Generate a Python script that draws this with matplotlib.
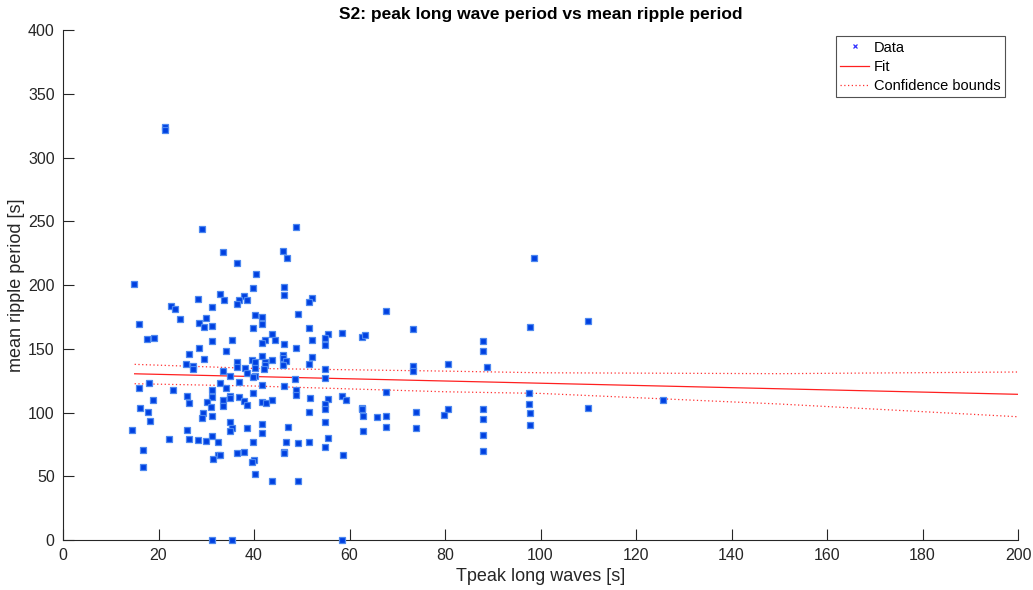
import numpy as np
import matplotlib
matplotlib.use("Agg")
import matplotlib.pyplot as plt
from matplotlib.lines import Line2D

plt.rcParams['font.family'] = ['Liberation Sans', 'DejaVu Sans']

# data
tpeak = [29.2, 33.6, 36.4, 40.4, 14.8, 39.7, 32.8, 28.3, 33.7, 38.0,
         36.9, 36.4, 38.5, 22.6, 23.5, 31.1, 24.4, 30.0, 40.3, 15.9,
         28.4, 29.5, 31.1, 39.7, 17.5, 19.1, 31.1, 35.3, 28.4, 34.1,
         26.4, 29.5, 25.7, 27.3, 36.4, 39.6, 40.3, 40.3, 38.1, 33.6,
         27.3, 36.4, 35.0, 38.5, 40.3, 39.8, 36.9, 32.8, 18.0, 34.1,
         15.9, 31.1, 23.0, 25.9, 31.1, 35.0, 35.0, 36.8, 33.6, 38.0,
         18.8, 26.4, 30.2, 38.5, 33.6, 31.0, 39.7, 16.1, 17.7, 29.3,
         29.1, 31.1, 18.2, 35.0, 35.4, 35.0, 38.5, 14.5, 25.9, 22.1,
         26.4, 28.2, 30.0, 31.1, 32.5, 39.7, 16.8, 36.4, 38.0, 32.5,
         32.9, 31.5, 39.9, 39.6, 16.8, 40.3, 31.3, 35.3,
         48.8, 46.1, 47.0, 46.3, 46.3, 52.1, 51.5, 67.6, 49.2, 41.7,
         41.7, 51.5, 73.2, 43.7, 58.5, 55.4, 62.6, 63.3, 54.8, 42.2,
         44.3, 52.1, 41.7, 46.3, 54.8, 48.8, 41.7, 46.1, 52.1, 46.1,
         46.6, 43.7, 42.2, 42.2, 46.1, 51.5, 73.2, 80.6, 54.8,
         42.1, 73.2, 48.6, 54.8, 41.7, 46.3, 48.8, 67.6, 48.8, 51.7,
         55.4, 58.5, 59.2, 41.7, 42.6, 43.7, 54.8, 62.6, 62.6, 54.8,
         51.5, 73.9, 80.6, 79.8, 62.8, 65.8, 67.6, 54.8, 41.7, 47.2,
         67.6, 73.9, 62.8, 41.7, 55.4, 46.6, 49.2, 51.5, 54.8, 46.3,
         46.3, 58.6, 43.7, 49.2, 58.5,
         98.7, 110.0, 97.8, 88.0, 88.0, 88.7, 97.6, 125.7, 88.0, 88.0,
         97.6, 97.8, 110.0, 97.8, 88.0, 88.0, 21.3, 21.3]
ripple = [243.7, 226.1, 217.3, 208.4, 200.8, 197.9, 192.7, 188.8, 188.5, 191.1,
          188.0, 185.1, 188.0, 183.8, 181.2, 182.5, 173.6, 174.4, 176.2, 169.4,
          169.9, 166.8, 167.6, 166.0, 157.9, 158.7, 155.8, 156.6, 150.3, 148.2,
          145.6, 142.2, 138.3, 136.2, 139.4, 140.9, 139.9, 134.9, 135.2, 132.8,
          133.9, 135.5, 128.9, 131.0, 128.9, 127.6, 124.2, 123.4, 123.4, 119.5,
          119.5, 117.9, 117.4, 112.9, 111.9, 112.9, 111.1, 111.9, 110.1, 109.3,
          110.1, 107.7, 108.5, 106.1, 105.3, 104.5, 115.6, 103.8, 100.4, 99.9,
          95.7, 97.3, 93.1, 92.3, 88.1, 85.5, 87.6, 86.3, 86.3, 79.5,
          79.5, 78.2, 77.4, 81.3, 76.6, 76.6, 70.6, 68.5, 69.3, 66.4,
          66.6, 63.5, 62.7, 60.9, 57.0, 51.5, 0.0, 0.0,
          245.2, 226.7, 221.2, 198.7, 192.4, 190.1, 186.4, 179.6, 177.5, 174.9,
          169.4, 166.0, 165.2, 161.8, 162.6, 161.8, 159.2, 161.0, 158.7, 157.1,
          157.1, 157.1, 154.5, 153.7, 153.2, 150.3, 144.3, 144.8, 143.5, 142.5,
          140.1, 141.4, 139.4, 137.3, 137.3, 138.0, 136.7, 138.0, 133.9,
          134.4, 132.5, 126.3, 126.8, 121.6, 120.8, 117.9, 116.1, 114.0, 111.4,
          110.6, 112.7, 110.1, 108.0, 107.2, 110.1, 106.7, 103.8, 102.5, 102.5,
          100.4, 100.4, 102.5, 97.8, 97.0, 96.2, 97.0, 92.8, 91.0, 88.9,
          88.9, 88.1, 85.5, 84.2, 80.0, 76.6, 75.8, 76.6, 73.2, 69.3,
          68.2, 66.4, 46.0, 46.5, 0.0,
          221.2, 172.0, 167.3, 155.8, 148.2, 135.9, 115.6, 110.1, 102.5, 94.9,
          106.7, 99.9, 103.8, 90.2, 82.1, 69.8, 324.3, 321.5]

# linear fit (slope, intercept) and confidence bounds
fit_coef = [-0.087, 131.7]
fit_x = [15, 200]
bound_x = [15, 40, 80, 100, 150, 200]
bound_upper = [137.8, 134.6, 132.5, 131.2, 130.5, 131.8]
bound_lower = [122.6, 120.8, 116.3, 115.0, 106.7, 96.7]

fig = plt.figure(figsize=(10.33, 5.9), dpi=100)
ax = fig.add_axes([0.061, 0.0847, 0.9245, 0.8643])

ax.plot(tpeak, ripple, linestyle='none', marker='s', ms=4.0, mew=0.9,
        mfc='#0040e0', mec='#4d88f0', clip_on=False, zorder=3)
fx = np.array(fit_x)
ax.plot(fx, np.polyval(fit_coef, fx), color='#ff2020', lw=0.9, zorder=2)
ax.plot(bound_x, bound_upper, color='#ff3030', lw=0.9, ls=(0, (1, 2)), zorder=2)
ax.plot(bound_x, bound_lower, color='#ff3030', lw=0.9, ls=(0, (1, 2)), zorder=2)

ax.set_xlim(0, 200)
ax.set_ylim(0, 400)
ax.set_xticks(np.arange(0, 201, 20))
ax.set_yticks(np.arange(0, 401, 50))
for s in ['top', 'right']:
    ax.spines[s].set_visible(False)
for s in ['left', 'bottom']:
    ax.spines[s].set_color('#262626')
    ax.spines[s].set_linewidth(0.8)
ax.tick_params(direction='in', length=8, width=0.8, colors='#262626',
               labelsize=11.5, pad=6)

ax.set_xlabel('Tpeak long waves [s]', fontsize=13, color='#262626', labelpad=3)
ax.set_ylabel('mean ripple period [s]', fontsize=13, color='#262626', labelpad=2)
ax.set_title('S2: peak long wave period vs mean ripple period', fontsize=12.5,
             fontweight='bold', pad=8)

handles = [Line2D([], [], ls='none', marker='x', ms=3.5, mew=0.9, color='#3030ff'),
           Line2D([], [], color='#ff2020', lw=0.9),
           Line2D([], [], color='#ff3030', lw=0.9, ls=(0, (1, 2)))]
leg = ax.legend(handles, ['Data', 'Fit', 'Confidence bounds'], loc='upper right',
                bbox_to_anchor=(0.986, 0.988), fontsize=10.5, frameon=True,
                fancybox=False, edgecolor='#262626', handlelength=2.0,
                handletextpad=0.3, borderpad=0.3, labelspacing=0.35,
                borderaxespad=0.0)
leg.get_frame().set_linewidth(0.8)

fig.savefig('out.png', dpi=100)
